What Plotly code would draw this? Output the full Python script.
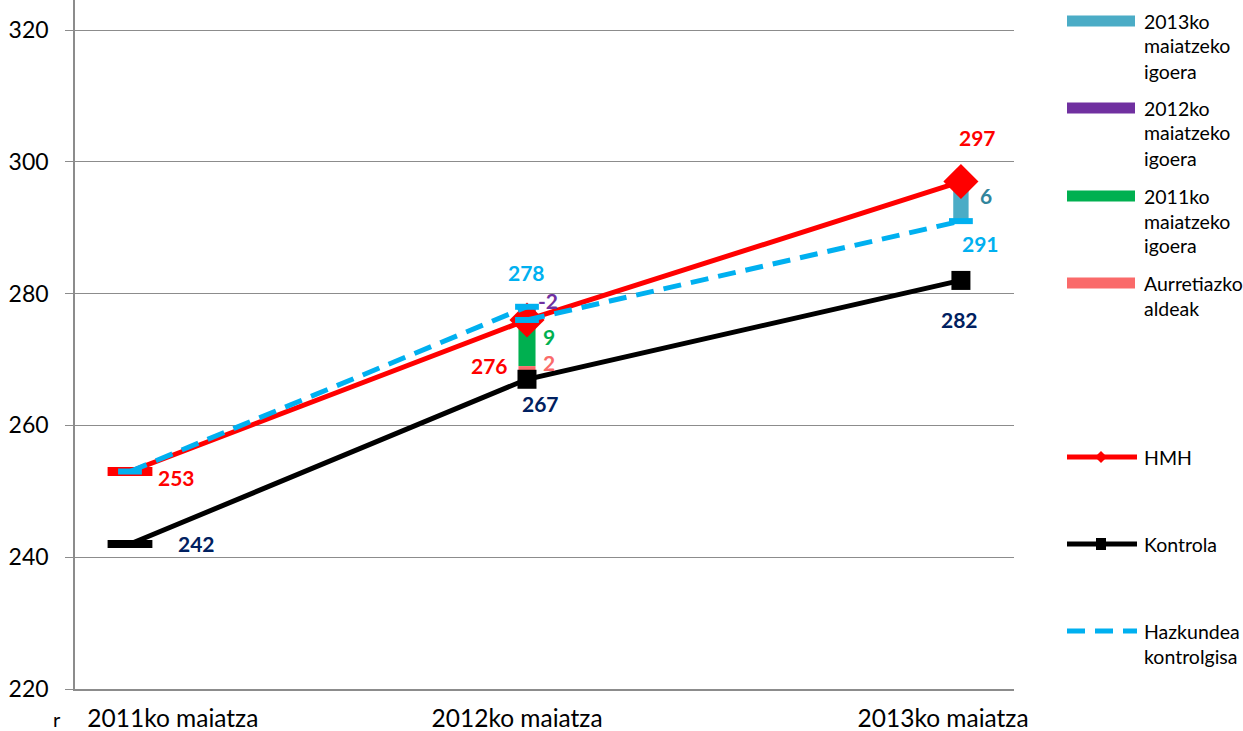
import plotly.graph_objects as go

# ---------------- data ----------------
categories = ["2011ko maiatza", "2012ko maiatza", "2013ko maiatza"]
hmh = [253, 276, 297]
kontrola = [242, 267, 282]
hazkundea_a = [253, 278]   # 2011 -> 2012, growth as control
hazkundea_b = [276, 291]   # 2012 -> 2013, growth as control
aurretiazko_aldeak = 2     # 2012
igoera_2011 = 9            # 2012
igoera_2012 = -2           # 2012
igoera_2013 = 6            # 2013
y_ticks = [220, 240, 260, 280, 300, 320]

# ---------------- layout helpers ----------------
x_pos = [0.0, 1.0, 2.093]          # axis position of each category
label_pos = [0.108, 0.975, 2.048]  # where category labels sit
FONT = "Lato"
W, H = 1243, 731
ML, MR, MT, MB = 75, 229, 0, 42
PW, PH = W - ML - MR, H - MT - MB


def px(xp):
    return (xp - ML) / PW


def py(yp):
    return (H - MB - yp) / PH


C_TEAL = "#4BACC6"
C_PURPLE = "#7030A0"
C_GREEN = "#00B050"
C_SALMON = "#FA6A6A"
C_RED = "#FF0000"
C_BLACK = "#000000"
C_BLUE = "#00B0F0"
C_NAVY = "#002060"
C_GRID = "#8C8C8C"

fig = go.Figure()

bar_w = 0.043
# stacked increments
fig.add_bar(x=[x_pos[1]], y=[aurretiazko_aldeak], base=[kontrola[1]], width=bar_w,
            marker=dict(color=C_SALMON, line_width=0), showlegend=False)
fig.add_bar(x=[x_pos[1]], y=[igoera_2011], base=[kontrola[1] + aurretiazko_aldeak], width=bar_w,
            marker=dict(color=C_GREEN, line_width=0), showlegend=False)
fig.add_bar(x=[x_pos[1]], y=[igoera_2012], base=[hazkundea_a[1]], width=bar_w,
            marker=dict(color=C_PURPLE, line_width=0), showlegend=False)
fig.add_bar(x=[x_pos[2]], y=[igoera_2013], base=[hazkundea_b[1]], width=bar_w * 0.9,
            marker=dict(color=C_TEAL, line_width=0), showlegend=False)

# Kontrola
fig.add_scatter(x=x_pos, y=kontrola, mode="lines+markers",
                line=dict(color=C_BLACK, width=5),
                marker=dict(symbol=["line-ew", "square", "square"], size=[32, 19, 19], opacity=1,
                            color=C_BLACK, line=dict(color=C_BLACK, width=[8, 0, 0])),
                showlegend=False)
# HMH
fig.add_scatter(x=x_pos, y=hmh, mode="lines+markers",
                line=dict(color=C_RED, width=5),
                marker=dict(symbol=["line-ew", "diamond", "diamond"], size=[32, 27, 27], opacity=1,
                            color=C_RED, line=dict(color=C_RED, width=[9, 0, 0])),
                showlegend=False)
# Hazkundea kontrolgisa
for xs, ys in ((x_pos[0:2], hazkundea_a), (x_pos[1:3], hazkundea_b)):
    fig.add_scatter(x=xs, y=ys, mode="lines+markers",
                    line=dict(color=C_BLUE, width=5, dash="18px,10px"),
                    marker=dict(symbol="line-ew", size=17, opacity=1,
                                line=dict(color=C_BLUE, width=6)),
                    showlegend=False)

annotations = []


def data_label(x, y, text, color, dx, dy):
    annotations.append(dict(x=x, y=y, xref="x", yref="y", text=text, showarrow=False,
                            xshift=dx, yshift=dy,
                            font=dict(family=FONT, size=21, color=color, weight="bold")))


data_label(x_pos[0], hmh[0], str(hmh[0]), C_RED, 47, -6)
data_label(x_pos[1], hmh[1], str(hmh[1]), C_RED, -37, -46)
data_label(x_pos[2], hmh[2], str(hmh[2]), C_RED, 17, 44)
data_label(x_pos[0], kontrola[0], str(kontrola[0]), C_NAVY, 67, 1)
data_label(x_pos[1], kontrola[1], str(kontrola[1]), C_NAVY, 14, -24)
data_label(x_pos[2], kontrola[2], str(kontrola[2]), C_NAVY, -1, -39)
data_label(x_pos[1], hazkundea_a[1], str(hazkundea_a[1]), C_BLUE, 0, 34)
data_label(x_pos[2], hazkundea_b[1], str(hazkundea_b[1]), C_BLUE, 20, -22)
data_label(x_pos[1], kontrola[1] + aurretiazko_aldeak / 2, str(aurretiazko_aldeak), C_SALMON, 22, 10)
data_label(x_pos[1], kontrola[1] + aurretiazko_aldeak + igoera_2011 / 2, str(igoera_2011), C_GREEN, 22, 0)
data_label(x_pos[1], hazkundea_a[1] + igoera_2012 / 2, str(igoera_2012), C_PURPLE, 21, 13)
data_label(x_pos[2], hazkundea_b[1] + igoera_2013 / 2, str(igoera_2013), "#31859C", 25, 6)

# ---------------- manual legend ----------------
legend_items = [
    ("bar", C_TEAL, ["2013ko", "maiatzeko", "igoera"], 21),
    ("bar", C_PURPLE, ["2012ko", "maiatzeko", "igoera"], 108),
    ("bar", C_GREEN, ["2011ko", "maiatzeko", "igoera"], 196),
    ("bar", C_SALMON, ["Aurretiazko", "aldeak"], 283),
    ("diamond", C_RED, ["HMH"], 457),
    ("square", C_BLACK, ["Kontrola"], 544),
    ("dash", C_BLUE, ["Hazkundea", "kontrolgisa"], 631),
]
shapes = []
for kind, col, lines, yc in legend_items:
    if kind == "bar":
        shapes.append(dict(type="rect", xref="paper", yref="paper", x0=px(1067), x1=px(1135),
                           y0=py(yc + 5.5), y1=py(yc - 5.5), fillcolor=col, line_width=0))
    else:
        shapes.append(dict(type="line", xref="paper", yref="paper", x0=px(1067), x1=px(1137),
                           y0=py(yc), y1=py(yc),
                           line=dict(color=col, width=5, dash="18px,10px" if kind == "dash" else "solid")))
        if kind == "diamond":
            shapes.append(dict(type="path", xref="paper", yref="paper",
                               path=f"M {px(1101)} {py(yc - 6)} L {px(1107)} {py(yc)} L {px(1101)} {py(yc + 6)} L {px(1095)} {py(yc)} Z",
                               fillcolor=col, line_width=0))
        elif kind == "square":
            shapes.append(dict(type="rect", xref="paper", yref="paper", x0=px(1096), x1=px(1106),
                               y0=py(yc + 6), y1=py(yc - 6), fillcolor=col, line_width=0))
    for i, t in enumerate(lines):
        annotations.append(dict(x=px(1142), y=py(yc + i * 25), xref="paper", yref="paper",
                                text=t, showarrow=False, xanchor="left", yanchor="middle",
                                font=dict(family=FONT, size=19.5, color="#000000")))

# stray clipped character at bottom-left
annotations.append(dict(x=px(57), y=py(719), xref="paper", yref="paper", text="r", showarrow=False,
                        xanchor="center", yanchor="middle", font=dict(family=FONT, size=20, color="#000000")))

fig.update_layout(
    width=W, height=H,
    margin=dict(l=ML, r=MR, t=MT, b=MB, pad=0),
    paper_bgcolor="white", plot_bgcolor="white",
    barmode="overlay",
    font=dict(family=FONT, size=23, color="#000000"),
    showlegend=False,
    annotations=annotations,
    shapes=shapes,
    xaxis=dict(range=[-0.1385, 2.2267], tickmode="array", tickvals=label_pos, ticktext=categories,
               showgrid=False, zeroline=False, showline=True, linecolor=C_GRID, linewidth=1.5,
               ticks="", ticklabelstandoff=7, tickfont=dict(family=FONT, size=24.5)),
    yaxis=dict(range=[220, 320 + 30 / 6.59], tickmode="array", tickvals=y_ticks,
               showgrid=True, gridcolor=C_GRID, gridwidth=1.3, zeroline=False,
               showline=True, linecolor=C_GRID, linewidth=1.5,
               ticks="outside", ticklen=8, tickcolor=C_GRID, tickwidth=1.3,
               ticklabelstandoff=12, tickfont=dict(family=FONT, size=23)),
)

fig.write_html("out.html", config={"displayModeBar": False},
               post_script="document.body.style.margin='0px';document.body.style.overflow='hidden';")
